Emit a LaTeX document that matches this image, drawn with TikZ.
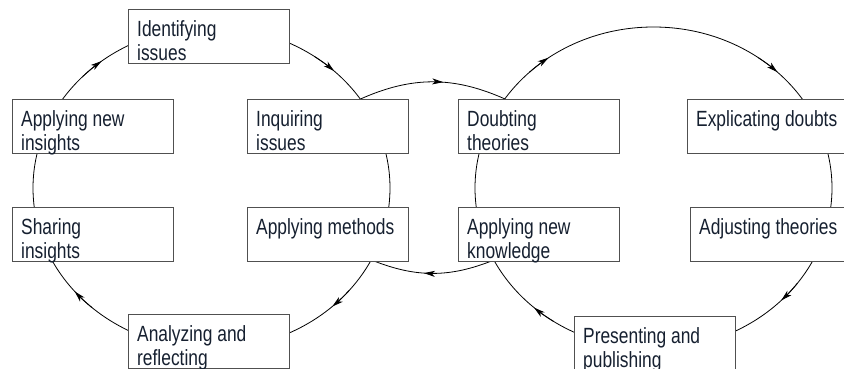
\documentclass[tikz,border=0pt]{standalone}
\usepackage{fontspec}
\newfontfamily\boxfont[FakeStretch=0.79]{Liberation Sans}
\usetikzlibrary{arrows.meta,decorations.markings}
\definecolor{textc}{RGB}{22,32,48}
\definecolor{boxc}{RGB}{80,80,80}
\newcommand\twoln[2]{\vtop{\hbox{#1}\hbox{#2}}}
\newcommand\oneln[1]{\vtop{\hbox{#1}}}
\begin{document}
\begin{tikzpicture}[x=1pt,y=1pt,
  conn/.style={line width=0.8pt, draw=black},
  arr/.style={-{Stealth[length=11pt,width=6pt,inset=3pt]}},
  midarrow/.style={postaction={decorate},decoration={markings,
     mark=at position 0.57 with {\arrow{Stealth[length=11pt,width=6pt,inset=3pt]}}}},
  box/.style={draw=boxc, line width=1pt, fill=white, anchor=north west,
     minimum width=161pt, minimum height=54pt, inner sep=0pt},
  lbl/.style={anchor=base west, inner sep=0pt, text=textc,
     font=\boxfont\fontsize{22}{24}\selectfont, xshift=9pt, yshift=-27.5pt}]
\useasboundingbox (0,0) rectangle (844,369);
\clip (0,0) rectangle (844,369);
\fill[white] (0,0) rectangle (844,369);
% cycle centres
\coordinate (cL) at (211.5,181);
\coordinate (cR) at (653.5,181);
% the two cycles
\draw[conn] (cL) ellipse [x radius=178.5pt, y radius=161pt];
\draw[conn] (cR) ellipse [x radius=178.5pt, y radius=161pt];
% arrow heads on the cycles (clockwise)
\foreach \c/\t in {cL/128, cL/46.6, cL/-47.4, cL/-140, cR/126, cR/46, cR/-44.3, cR/-132}
  \draw[conn, arr] ([shift={(\t+8:178.5pt and 161pt)}]\c)
     arc[start angle=\t+8, end angle=\t, x radius=178.5pt, y radius=161pt];
% links between the cycles
\coordinate (c1) at (360.5,270);
\coordinate (c2) at (505,270);
\coordinate (c3) at (494,109);
\coordinate (c4) at (371.5,109);
\draw[conn, midarrow] (c1) to[bend left=24] (c2);
\draw[conn, midarrow] (c3) to[bend left=22] (c4);
% boxes
\node[box] (ident)   at (128,360) {};
\node[box] (appins)  at (12,270)  {};
\node[box] (inq)     at (247,270) {};
\node[box] (doubt)   at (458,270) {};
\node[box] (expl)    at (687,270) {};
\node[box] (share)   at (12,162)  {};
\node[box] (appmeth) at (247,162) {};
\node[box] (appknow) at (458,162) {};
\node[box] (adjust)  at (690,162) {};
\node[box] (analyze) at (128,55)  {};
\node[box] (present) at (574,53)  {};
% labels
\node[lbl] (identT)   at (ident.north west)   {\twoln{Identifying}{issues}};
\node[lbl] (appinsT)  at (appins.north west)  {\twoln{Applying new}{insights}};
\node[lbl] (inqT)     at (inq.north west)     {\twoln{Inquiring}{issues}};
\node[lbl] (doubtT)   at (doubt.north west)   {\twoln{Doubting}{theories}};
\node[lbl] (explT)    at (expl.north west)    {\oneln{Explicating doubts}};
\node[lbl] (shareT)   at (share.north west)   {\twoln{Sharing}{insights}};
\node[lbl] (appmethT) at (appmeth.north west) {\oneln{Applying methods}};
\node[lbl] (appknowT) at (appknow.north west) {\twoln{Applying new}{knowledge}};
\node[lbl] (adjustT)  at (adjust.north west)  {\oneln{Adjusting theories}};
\node[lbl] (analyzeT) at (analyze.north west) {\twoln{Analyzing and}{reflecting}};
\node[lbl] (presentT) at (present.north west) {\twoln{Presenting and}{publishing}};
\end{tikzpicture}
\end{document}
